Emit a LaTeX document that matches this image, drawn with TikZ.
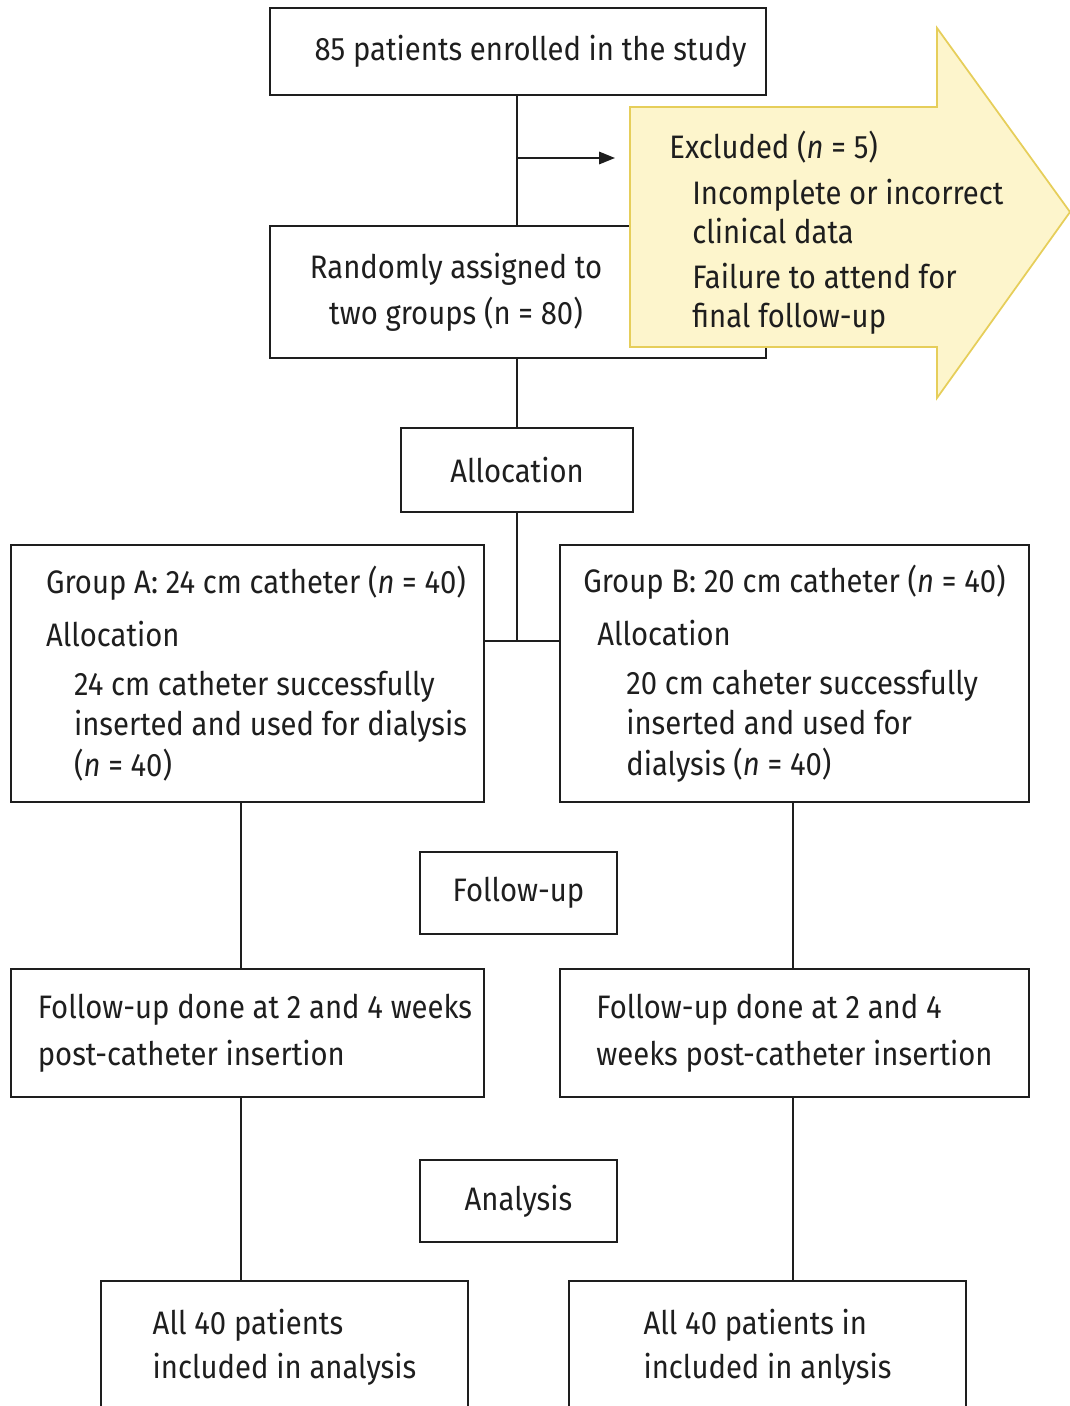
\documentclass[tikz,border=0pt]{standalone}
\usepackage{fontspec}
\setmainfont[FakeStretch=0.9]{Fira Sans}
\usepackage{tikz}
\usetikzlibrary{arrows.meta}
\definecolor{excfill}{RGB}{253,245,204}
\definecolor{excline}{RGB}{230,206,90}
\definecolor{ink}{RGB}{30,30,30}

\begin{document}
\begin{tikzpicture}[x=0.02cm, y=-0.02cm,
  box/.style={draw=ink, line width=1.1pt, align=left, inner sep=0pt, text=ink},
  link/.style={draw=ink, line width=1.1pt},
  font=\fontsize{18.5}{23}\selectfont]
\useasboundingbox (0,0) rectangle (1069,1406);

\node[box, minimum width=9.92cm, minimum height=1.74cm] (enrol) at (518,51.5) {\hspace*{0.5cm}85 patients enrolled in the study};
\node[box, minimum width=9.92cm, minimum height=2.64cm] (rand) at (518,292) {};
\node[text=ink, align=center, font=\fontsize{18.5}{26}\selectfont] (randtxt) at (456,292) {Randomly assigned to\\two groups (n = 80)};
\node[box, minimum width=4.64cm, minimum height=1.68cm] (alloc) at (517,470) {Allocation};

\node[box, minimum width=9.46cm, minimum height=5.14cm] (grpA) at (247.5,673.5) {\hspace*{0.36cm}Group A: 24 cm catheter (\textit{n} = 40)\\[7pt]
\hspace*{0.36cm}Allocation\\[5pt]
\hspace*{0.92cm}24 cm catheter successfully\\
\hspace*{0.92cm}inserted and used for dialysis\\
\hspace*{0.92cm}(\textit{n} = 40)};
\node[box, minimum width=9.38cm, minimum height=5.14cm] (grpB) at (794.5,673.5) {Group B: 20 cm catheter (\textit{n} = 40)\\[7pt]
\hspace*{0.28cm}Allocation\\[5pt]
\hspace*{0.86cm}20 cm caheter successfully\\
\hspace*{0.86cm}inserted and used for\\
\hspace*{0.86cm}dialysis (\textit{n} = 40)};

\node[box, minimum width=3.94cm, minimum height=1.64cm] (fu) at (518.5,893) {Follow-up};
\node[box, minimum width=9.46cm, minimum height=2.56cm, font=\fontsize{18.5}{27}\selectfont] (fuA) at (247.5,1033) {\hspace*{0.3cm}Follow-up done at 2 and 4 weeks\\\hspace*{0.3cm}post-catheter insertion};
\node[box, minimum width=9.38cm, minimum height=2.56cm, font=\fontsize{18.5}{27}\selectfont] (fuB) at (794.5,1033) {Follow-up done at 2 and 4\\weeks post-catheter insertion};

\node[box, minimum width=3.94cm, minimum height=1.64cm] (ana) at (518.5,1201) {Analysis};
\node[box, minimum width=7.34cm, minimum height=2.64cm, font=\fontsize{18.5}{25}\selectfont] (anaA) at (284.5,1347) {All 40 patients\\included in analysis};
\node[box, minimum width=7.94cm, minimum height=2.64cm, font=\fontsize{18.5}{25}\selectfont] (anaB) at (767.5,1347) {All 40 patients in\\included in anlysis};

\fill[excfill, draw=excline, line width=1pt] (630,107) -- (937,107) -- (937,28) -- (1070,212) -- (937,398) -- (937,347) -- (630,347) -- cycle;
\node[text=ink, align=left, inner sep=0pt, anchor=west, font=\fontsize{18.5}{22}\selectfont] (excl) at (669,233) {Excluded (\textit{n} = 5)\\[4pt]
\hspace*{0.46cm}Incomplete or incorrect\\
\hspace*{0.46cm}clinical data\\[4pt]
\hspace*{0.46cm}Failure to attend for\\
\hspace*{0.46cm}final follow-up};

\coordinate (split) at (517,158);
\coordinate (exctip) at (615,158);
\coordinate (join) at (517,641);

\draw[link] (enrol.south -| split) -- (rand.north -| split);
\draw[link, -{Triangle[length=9pt, width=7pt]}] (split) -- (exctip);
\draw[link] (rand.south -| split) -- (alloc.north -| split);
\draw[link] (alloc.south -| join) -- (join);
\draw[link] (join -| grpA.east) -- (join -| grpB.west);
\draw[link] (grpA.south -| 241,0) -- (fuA.north -| 241,0);
\draw[link] (grpB.south -| 793,0) -- (fuB.north -| 793,0);
\draw[link] (fuA.south -| 241,0) -- (anaA.north -| 241,0);
\draw[link] (fuB.south -| 793,0) -- (anaB.north -| 793,0);
\end{tikzpicture}
\end{document}
